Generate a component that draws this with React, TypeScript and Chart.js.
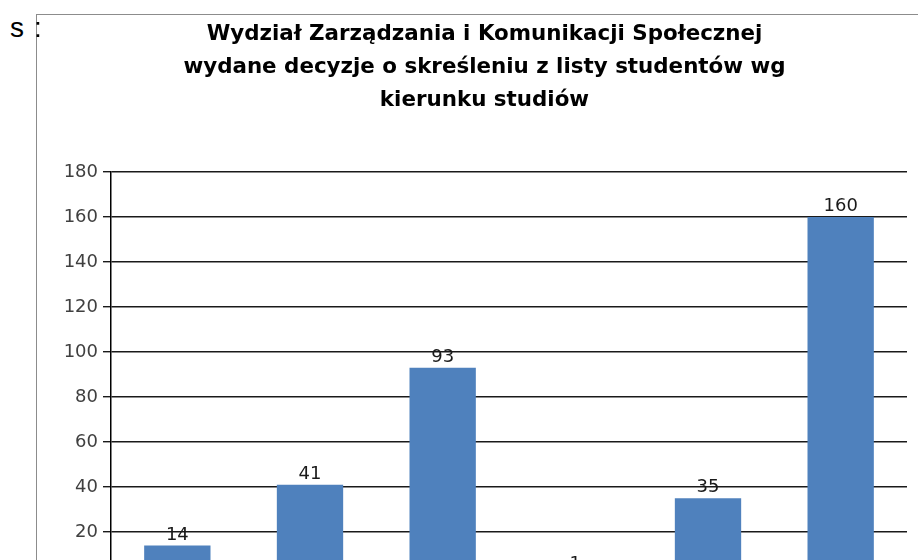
import React, { useEffect, useRef } from "react";
import { Chart, registerables } from "chart.js";

Chart.register(...registerables);

const titleLines = [
  "Wydział Zarządzania i Komunikacji Społecznej",
  "wydane decyzje o skreśleniu z listy studentów wg",
  "kierunku studiów",
];
const categories = ["Kierunek 1", "Kierunek 2", "Kierunek 3", "Kierunek 4", "Kierunek 5", "Kierunek 6"];
const values = [14, 41, 93, 1, 35, 160];
const yMin = 0;
const yMax = 180;
const yStep = 20;

const valueLabels = {
  id: "valueLabels",
  afterDatasetsDraw(chart: any) {
    const ctx = chart.ctx;
    const meta = chart.getDatasetMeta(0);
    ctx.save();
    ctx.font = "18px 'DejaVu Sans'";
    ctx.fillStyle = "#1a1a1a";
    ctx.textAlign = "center";
    ctx.textBaseline = "alphabetic";
    meta.data.forEach((bar: any, i: number) => {
      ctx.fillText(String(values[i]), bar.x, bar.y - 6);
    });
    ctx.restore();
  },
};

export default function App() {
  const ref = useRef<HTMLCanvasElement>(null);
  useEffect(() => {
    if (!ref.current) return;
    const chart = new Chart(ref.current, {
      type: "bar",
      data: {
        labels: categories,
        datasets: [
          {
            data: values,
            backgroundColor: "#4F81BD",
            borderWidth: 0,
            categoryPercentage: 1,
            barPercentage: 0.5,
          },
        ],
      },
      options: {
        animation: false,
        responsive: false,
        devicePixelRatio: 1,
        layout: { padding: { left: 25, right: 25, top: 0, bottom: 0 } },
        plugins: {
          legend: { display: false },
          tooltip: { enabled: false },
          title: {
            display: true,
            text: titleLines,
            color: "#000",
            font: { family: "'DejaVu Sans'", size: 21.4, weight: "bold", lineHeight: 33 / 21.4 },
            padding: { top: 2.5, bottom: 55.5 },
          },
        },
        scales: {
          x: {
            ticks: { display: false },
            grid: { display: false },
            border: { display: true, color: "#000", width: 1.5 },
            afterFit: (s: any) => {
              s.height = 38;
            },
          },
          y: {
            min: yMin,
            max: yMax,
            ticks: {
              stepSize: yStep,
              color: "#404040",
              font: { family: "'DejaVu Sans'", size: 18 },
              padding: 5,
            },
            grid: { color: "#1a1a1a", lineWidth: 1.4, tickLength: 8 },
            border: { display: true, color: "#000", width: 1.5 },
            afterFit: (s: any) => {
              s.width = 49;
            },
          },
        },
      },
      plugins: [valueLabels],
    });
    return () => chart.destroy();
  }, []);

  const textStyle: React.CSSProperties = {
    position: "absolute",
    top: 12,
    fontFamily: "'Liberation Sans', Arial, sans-serif",
    fontSize: 28,
    lineHeight: "normal",
    color: "#000",
    whiteSpace: "pre",
  };

  return (
    <div
      style={{
        position: "fixed",
        left: 0,
        top: 0,
        width: 918,
        height: 560,
        overflow: "hidden",
        background: "#fff",
      }}
    >
      <div
        style={{
          position: "absolute",
          left: 36,
          top: 14,
          width: 895,
          height: 600,
          borderLeft: "1px solid #8c8c8c",
          borderTop: "1px solid #8c8c8c",
        }}
      >
        <canvas ref={ref} width={895} height={600} style={{ display: "block" }} />
      </div>
      <span style={{ ...textStyle, left: 10 }}>s</span>
      <span style={{ ...textStyle, left: 34 }}>:</span>
    </div>
  );
}
